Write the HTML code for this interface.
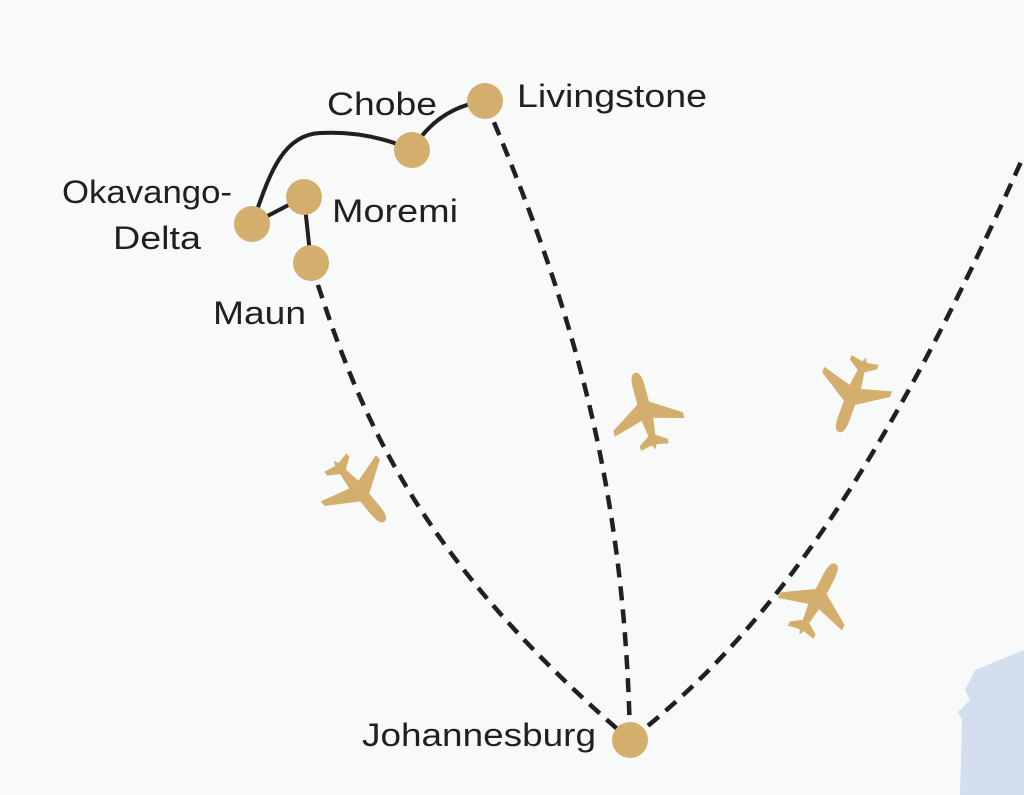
<!DOCTYPE html>
<html><head><style>
html,body{margin:0;padding:0;background:#f8f9f9;}
svg{display:block}
text{font-family:"Liberation Sans",sans-serif;font-size:32px;fill:#231f20}
</style></head><body>
<svg width="1024" height="795" viewBox="0 0 1024 795">
<defs>
<path id="pl" fill="#d4ae6c" d="M0,-32 C4,-32 5,-26 5,-20 L5,-6 L30,10 L30,15 L5,8 L3,22 L12,28 L12,32 L2,30 L0,34 L-2,30 L-12,32 L-12,28 L-3,22 L-5,8 L-30,15 L-30,10 L-5,-6 L-5,-20 C-5,-26 -4,-32 0,-32 Z"/>
</defs>
<path d="M960,795 L962,720 L958,712 L970,700 L965,690 L975,670 L1024,650 L1024,795 Z" fill="#d3dfef"/>
<g fill="none" stroke="#231f20" stroke-width="4">
<path d="M252,224 C268,180 280,135 320,133 C360,131 390,140 412,150"/>
<path d="M412,150 C430,120 455,105 485,101"/>
<path d="M252,224 L304,197 L311,263"/>
<g stroke-dasharray="14,9" stroke-width="4.5">
<path d="M311,263 C360,420 420,560 630,740"/>
<path d="M485,101 C570,300 625,480 630,740"/>
<path d="M630,740 C760,640 880,480 1024,155"/>
</g>
</g>
<g fill="#d4ae6c">
<circle cx="252" cy="224" r="18"/>
<circle cx="304" cy="197" r="18"/>
<circle cx="311" cy="263" r="18"/>
<circle cx="412" cy="150" r="18"/>
<circle cx="485" cy="101" r="18"/>
<circle cx="630" cy="740" r="18"/>
</g>
<use href="#pl" transform="translate(360,492) rotate(140) scale(1.2)"/>
<use href="#pl" transform="translate(645,410) rotate(-15) scale(1.2)"/>
<use href="#pl" transform="translate(852,396) rotate(200) scale(1.2)"/>
<use href="#pl" transform="translate(818,598) rotate(27) scale(1.2)"/>
<text x="517" y="107" textLength="190" lengthAdjust="spacingAndGlyphs">Livingstone</text>
<text x="327" y="115" textLength="110" lengthAdjust="spacingAndGlyphs">Chobe</text>
<text x="62" y="203" textLength="170" lengthAdjust="spacingAndGlyphs">Okavango-</text>
<text x="113" y="249" textLength="88" lengthAdjust="spacingAndGlyphs">Delta</text>
<text x="332" y="222" textLength="126" lengthAdjust="spacingAndGlyphs">Moremi</text>
<text x="213" y="324" textLength="93" lengthAdjust="spacingAndGlyphs">Maun</text>
<text x="362" y="746" textLength="234" lengthAdjust="spacingAndGlyphs">Johannesburg</text>
</svg>
</body></html>
